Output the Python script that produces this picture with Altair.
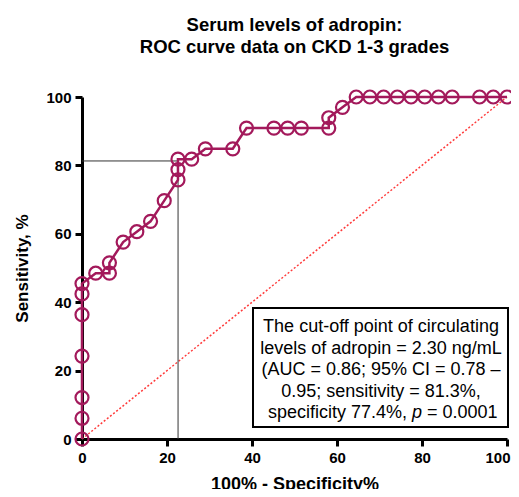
import altair as alt
import pandas as pd

# ROC curve points (100% - specificity, sensitivity)
fpr = [0, 0, 0, 0, 0, 0, 0, 3.23, 6.45, 6.45, 9.68, 12.90, 16.13, 19.35,
       22.58, 22.58, 22.58, 25.81, 29.03, 35.48, 38.71, 45.16, 48.39, 51.61,
       58.06, 58.06, 61.29, 64.52, 67.74, 70.97, 74.19, 77.42, 80.65, 83.87,
       87.10, 93.55, 96.77, 100.0]
sens = [0, 6.06, 12.12, 24.24, 36.36, 42.42, 45.45, 48.48, 48.48, 51.52,
        57.58, 60.61, 63.64, 69.70, 75.76, 78.79, 81.82, 81.82, 84.85, 84.85,
        90.91, 90.91, 90.91, 90.91, 90.91, 93.94, 96.97, 100, 100, 100, 100,
        100, 100, 100, 100, 100, 100, 100]

cut_fpr = 22.6
cut_sens = 81.3

title_lines = ["Serum levels of adropin:", "ROC curve data on CKD 1-3 grades"]
box_lines = ["The cut-off point of circulating",
             "levels of adropin = 2.30 ng/mL",
             "(AUC = 0.86; 95% CI = 0.78 \u2013",
             "0.95; sensitivity = 81.3%,"]
last_line = ["specificity 77.4%,", "p", "= 0.0001"]
ticks = [0, 20, 40, 60, 80, 100]

FONT = "Liberation Sans"
COL = "#a3195b"

roc = pd.DataFrame({"x": fpr, "y": sens, "i": list(range(len(fpr)))})
diag = pd.DataFrame({"x": [0, 100], "y": [0, 100]})

xs = alt.Scale(domain=[0, 100], nice=False)
ys = alt.Scale(domain=[0, 100], nice=False)
xax = alt.Axis(values=ticks, title="100% - Specificity%", titleFontSize=18, titlePadding=10,
               labelAlign={"expr": "datum.value == 100 ? 'right' : 'center'"},
               labelOffset={"expr": "datum.value == 100 ? 3 : 0"})
yax = alt.Axis(values=ticks, title="Sensitivity, %", titleFontSize=17, titlePadding=14)

base = alt.Chart(roc)

diag_line = alt.Chart(diag).mark_line(color="#ff3b3b", strokeWidth=1.5, strokeDash=[2, 2]).encode(
    x=alt.X("x:Q", scale=xs, axis=xax), y=alt.Y("y:Q", scale=ys, axis=yax))

hrule = alt.Chart(pd.DataFrame({"x": [0], "x2": [cut_fpr], "y": [cut_sens]})).mark_rule(
    color="#333333", strokeWidth=1).encode(x="x:Q", x2="x2:Q", y="y:Q")
vrule = alt.Chart(pd.DataFrame({"x": [cut_fpr], "y": [0], "y2": [cut_sens]})).mark_rule(
    color="#333333", strokeWidth=1).encode(x="x:Q", y="y:Q", y2="y2:Q")

line = base.mark_line(color=COL, strokeWidth=2.5).encode(
    x="x:Q", y="y:Q", order="i:Q")
pts = base.mark_point(shape="circle", filled=False, color=COL, size=169, strokeWidth=2.2, opacity=1).encode(
    x="x:Q", y="y:Q")

box = alt.Chart(pd.DataFrame({"a": [0]})).mark_rect(fill="white", stroke="black", strokeWidth=2).encode(
    x=alt.value(171), x2=alt.value(426), y=alt.value(211), y2=alt.value(330))


def text_layer(t, x, y, align="center", size=18, weight="normal", style="normal"):
    return alt.Chart(pd.DataFrame({"t": [t]})).mark_text(
        font=FONT, fontSize=size, fontWeight=weight, fontStyle=style,
        baseline="alphabetic", align=align, color="black").encode(
        text="t:N", x=alt.value(x), y=alt.value(y))


box_ys = [235, 256.5, 278, 299.5]
box_text = [text_layer(t, 299, yy) for t, yy in zip(box_lines, box_ys)]
l5 = [text_layer(last_line[0], 325, 321, align="right"),
      text_layer(last_line[1], 335, 321, style="italic"),
      text_layer(last_line[2], 345, 321, align="left")]
title = [text_layer(t, 212.5, yy, size=18.5, weight="bold") for t, yy in zip(title_lines, [-66, -44])]

chart = alt.layer(diag_line, hrule, vrule, line, pts, box, *box_text, *l5, *title).properties(
    width=425, height=342,
    autosize=alt.AutoSizeParams(type="none"),
    padding={"left": 74, "top": 89, "right": 4, "bottom": 50},
).configure_view(stroke=None).configure_axis(
    grid=False, domainColor="black", domainWidth=3, tickColor="black", tickWidth=3, tickSize=7,
    labelFont=FONT, labelFontSize=15, labelFontWeight="bold", labelColor="black", labelPadding=4,
    labelFlush=False, labelOverlap=False,
    titleFont=FONT, titleFontWeight="bold", titleColor="black",
)

chart.save("out.html", embed_options={"renderer": "svg", "actions": False})
